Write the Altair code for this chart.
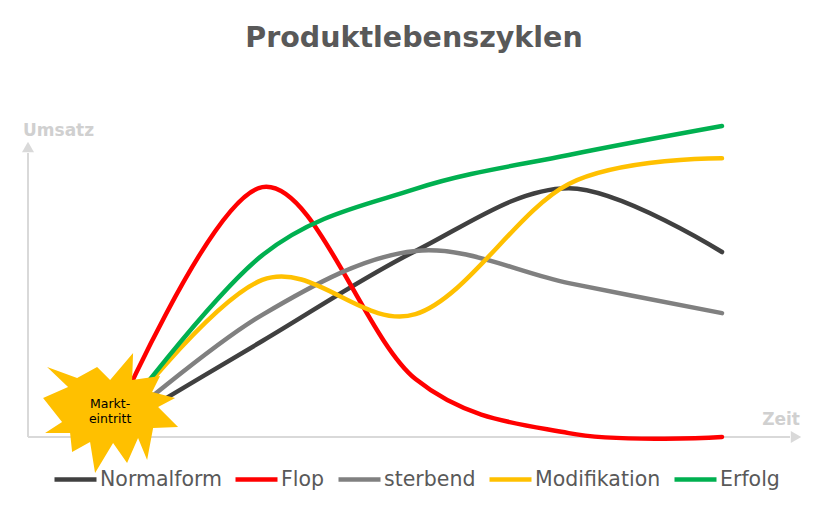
import altair as alt
import pandas as pd

# ---- data ----
zeitpunkte = [1, 2, 3, 4, 5]
serien = ["Normalform", "Flop", "sterbend", "Modifikation", "Erfolg"]
farben = ["#404040", "#FF0000", "#808080", "#FFC000", "#00B050"]
normalform = [1.4, 27.5, 53.3, 71.3, 53.0]
flop = [1.4, 71.6, 16.6, 1.1, 0.0]
sterbend = [1.4, 35.0, 53.3, 44.1, 35.5]
modifikation = [1.4, 45.0, 35.2, 72.5, 79.9]
erfolg = [1.4, 52.1, 71.1, 80.8, 89.1]

werte = [normalform, flop, sterbend, modifikation, erfolg]
rows = []
for s, vals in zip(serien, werte):
    for t, v in zip(zeitpunkte, vals):
        rows.append({"Zeit": t, "Umsatz": v, "Serie": s})
df = pd.DataFrame(rows)

X_MIN, X_MAX = 0.471, 5.509
xs = alt.Scale(domain=[X_MIN, X_MAX], nice=False, zero=False)
ys = alt.Scale(domain=[0, 100], nice=False, zero=False)
FONT = "DejaVu Sans"
AXIS_GRAY = "#d9d9d9"
LABEL_GRAY = "#d0d0d0"

STAR = ("M -0.941 -0.681 L -0.496 -0.519 L -0.2 -0.681 L -0.007 -0.489 L 0.333 -0.889 "
        "L 0.319 -0.489 L 0.733 -0.548 L 0.615 -0.311 L 0.956 -0.222 L 0.704 -0.089 "
        "L 1.0 0.207 L 0.63 0.222 L 0.541 0.696 L 0.407 0.37 L 0.244 0.741 L 0.037 0.444 "
        "L -0.23 0.889 L -0.304 0.43 L -0.57 0.578 L -0.6 0.296 L -0.97 0.296 L -0.719 0.133 "
        "L -1.0 -0.222 L -0.63 -0.385 Z")

X = lambda f: alt.X(f, type="quantitative", scale=xs, axis=None)
Y = lambda f: alt.Y(f, type="quantitative", scale=ys, axis=None)

lines = alt.Chart(df).mark_line(
    interpolate="cardinal", tension=0, strokeWidth=4.5, strokeCap="round"
).encode(
    x=X("Zeit"),
    y=Y("Umsatz"),
    color=alt.Color(
        "Serie:N",
        scale=alt.Scale(domain=serien, range=farben),
        sort=serien,
        legend=alt.Legend(
            title=None, orient="none", direction="horizontal",
            legendX=24, legendY=368, symbolType="stroke", symbolSize=1764,
            symbolStrokeWidth=4.5, labelFontSize=20.5, labelFont=FONT,
            labelColor="#595959", labelOffset=1, columnPadding=4, padding=0,
        ),
    ),
)

# axes with arrows
rules_df = pd.DataFrame({"x": [X_MIN, X_MIN], "x2": [X_MIN, 5.444],
                         "y": [0, 0], "y2": [81.4, 0]})
axes = alt.Chart(rules_df).mark_rule(color=AXIS_GRAY, strokeWidth=2).encode(
    x=X("x"), x2="x2", y=Y("y"), y2="y2"
)
y_arrow = alt.Chart(pd.DataFrame({"x": [X_MIN], "y": [83.1]})).mark_point(
    shape="triangle-up", size=144, filled=True, color=AXIS_GRAY, opacity=1
).encode(x=X("x"), y=Y("y"))
x_arrow = alt.Chart(pd.DataFrame({"x": [5.483], "y": [0]})).mark_point(
    shape="triangle-right", size=144, filled=True, color=AXIS_GRAY, opacity=1
).encode(x=X("x"), y=Y("y"))

umsatz = alt.Chart(pd.DataFrame({"x": [X_MIN], "y": [86.2], "t": ["Umsatz"]})).mark_text(
    align="left", baseline="alphabetic", dx=-5, font=FONT,
    fontSize=17, fontWeight="bold", color=LABEL_GRAY
).encode(x=X("x"), y=Y("y"), text="t:N")
zeit = alt.Chart(pd.DataFrame({"x": [X_MAX], "y": [3.44], "t": ["Zeit"]})).mark_text(
    align="right", baseline="alphabetic", font=FONT,
    fontSize=17, fontWeight="bold", color=LABEL_GRAY
).encode(x=X("x"), y=Y("y"), text="t:N")

star = alt.Chart(pd.DataFrame({"x": [1.01], "y": [6.9]})).mark_point(
    shape=STAR, size=18225, filled=True, color="#FFC000", opacity=1, strokeWidth=0
).encode(x=X("x"), y=Y("y"))
star_text = alt.Chart(pd.DataFrame({"x": [1.007], "y": [9.5], "t": ["Markt-\neintritt"]})).mark_text(
    lineBreak="\n", align="center", baseline="middle",
    font=FONT, fontSize=12.5, color="#000000", lineHeight=15
).encode(x=X("x"), y=Y("y"), text="t:N")

chart = alt.layer(
    axes, y_arrow, x_arrow, umsatz, zeit, lines, star, star_text
).properties(
    width=772, height=349,
    padding={"left": 20, "top": 80, "right": 19, "bottom": 70},
    autosize=alt.AutoSizeParams(type="none"),
    background="white",
    title=alt.TitleParams(
        "Produktlebenszyklen", font=FONT, fontSize=28.5, fontWeight="bold",
        color="#595959", anchor="middle", baseline="alphabetic", offset=13,
    ),
).configure_view(strokeWidth=0)

chart.save("out.html", embed_options={"renderer": "svg", "actions": False})
